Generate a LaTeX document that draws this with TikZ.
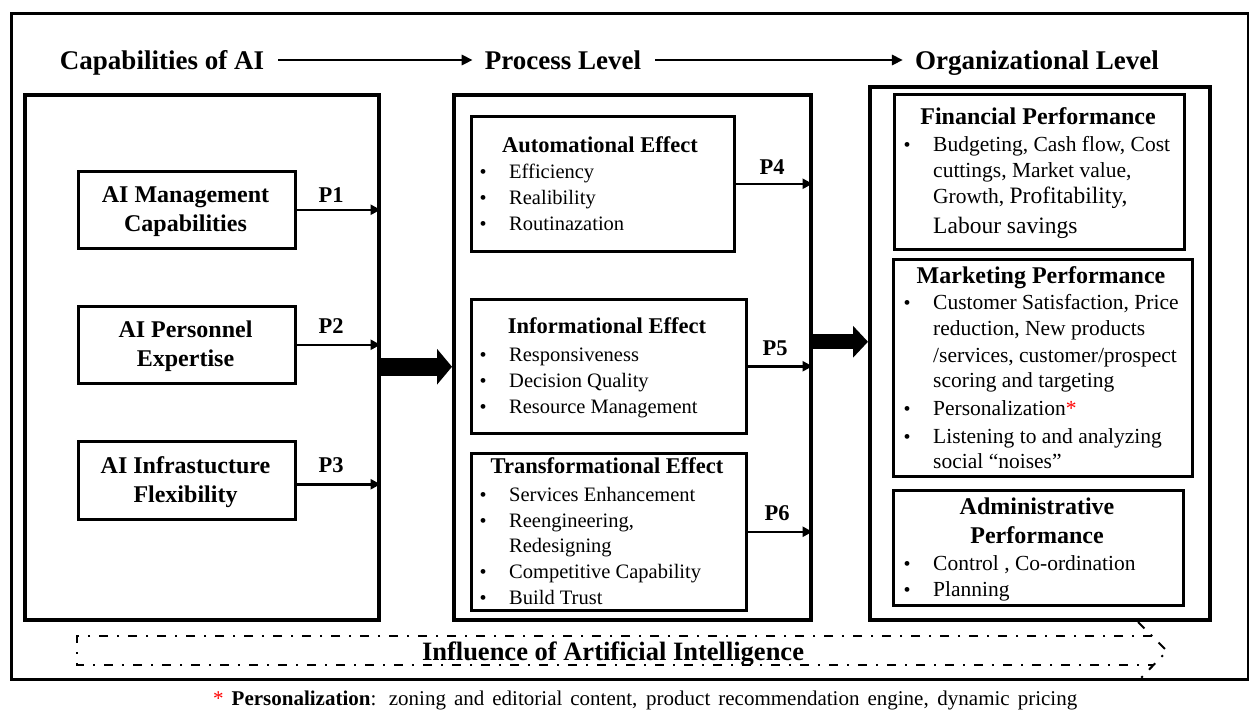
\documentclass[tikz,border=0pt]{standalone}
\usepackage{fontspec}
\setmainfont{Liberation Serif}
\usetikzlibrary{arrows.meta}
\begin{document}
\begin{tikzpicture}[x=1pt,y=-1pt,
  hdr/.style={font=\fontsize{27}{27}\selectfont\bfseries, inner sep=0, anchor=base},
  lbl/.style={font=\fontsize{24}{24}\selectfont\bfseries, inner sep=0, anchor=base},
  plbl/.style={font=\fontsize{22.5}{22.5}\selectfont\bfseries, inner sep=0, anchor=base},
  phead/.style={font=\fontsize{22.5}{22.5}\selectfont\bfseries, inner sep=0, anchor=base},
  pbody/.style={font=\fontsize{20.5}{20.5}\selectfont, inner sep=0, anchor=base west},
  ohead/.style={font=\fontsize{24}{24}\selectfont\bfseries, inner sep=0, anchor=base},
  obody/.style={font=\fontsize{21.5}{21.5}\selectfont, inner sep=0, anchor=base west},
  bul/.style={font=\fontsize{20}{20}\selectfont, inner sep=0, anchor=base},
  box/.style={draw, line width=2.5pt, inner sep=0, anchor=north west},
  bigbox/.style={draw, line width=3.5pt, inner sep=0, anchor=north west},
  conn/.style={line width=2.5pt, -{Triangle[length=10pt,width=10pt]}},
  hconn/.style={line width=2.8pt, -{Triangle[length=11pt,width=10pt]}, shorten <=14pt, shorten >=12pt},
  fat/.style={-{Triangle[length=15pt,width=35pt]}},
  infl/.style={line width=2pt, dash pattern=on 9pt off 9pt on 2pt off 9pt}
]
\useasboundingbox (0,0) rectangle (1249,710);

% outer frame
\node[draw, line width=3pt, inner sep=0, anchor=north west, minimum width=1237pt, minimum height=666pt] (frame) at (10,12) {};

% headers
\node[hdr] (h1) at (162,69) {Capabilities of AI};
\node[hdr] (h2) at (563,69) {Process Level};
\node[hdr] (h3) at (1037,69) {Organizational Level};
\draw[hconn] ([yshift=9pt]h1.base east) -- ([yshift=9pt]h2.base west);
\draw[hconn] ([yshift=9pt]h2.base east) -- ([yshift=9pt]h3.base west);

% big boxes
\node[bigbox, minimum width=354pt, minimum height=525pt] (capbox) at (23,93) {};
\node[bigbox, minimum width=357pt, minimum height=525pt] (procbox) at (452,93) {};
\node[bigbox, minimum width=340pt, minimum height=533pt] (orgbox) at (868,85) {};

% capability boxes
\node[box, minimum width=217pt, minimum height=77pt] (mgmt) at (77,170) {};
\node[box, minimum width=217pt, minimum height=77pt] (pers) at (77,305) {};
\node[box, minimum width=217pt, minimum height=78pt] (infra) at (77,440) {};
\node[lbl] (m1) at (185.5,202) {AI Management};
\node[lbl] (m2) at (185.5,231) {Capabilities};
\node[lbl] (pe1) at (185.5,337) {AI Personnel};
\node[lbl] (pe2) at (185.5,366) {Expertise};
\node[lbl] (in1) at (185.5,473) {AI Infrastucture};
\node[lbl] (in2) at (185.5,502) {Flexibility};
\draw[conn] (mgmt.east) -- (mgmt.east -| capbox.east);
\draw[conn] (pers.east) -- (pers.east -| capbox.east);
\draw[conn] ([yshift=-4pt]infra.east) -- ([yshift=-4pt]infra.east -| capbox.east);
\node[plbl] (p1) at (331,202) {P1};
\node[plbl] (p2) at (331,333) {P2};
\node[plbl] (p3) at (331,472) {P3};

% process boxes
\node[box, minimum width=263pt, minimum height=135pt] (auto) at (470,115) {};
\node[box, minimum width=275pt, minimum height=134pt] (info) at (470,298) {};
\node[box, minimum width=275pt, minimum height=157pt] (trans) at (470,452) {};

\node[phead] (ah) at (600,152) {Automational Effect};
\node[bul] (ab1) at (483,178) {•};
\node[pbody] (at1) at (509,178) {Efficiency};
\node[bul] (ab2) at (483,204) {•};
\node[pbody] (at2) at (509,204) {Realibility};
\node[bul] (ab3) at (483,230) {•};
\node[pbody] (at3) at (509,230) {Routinazation};

\node[phead] (ih) at (607,333) {Informational Effect};
\node[bul] (ib1) at (483,361) {•};
\node[pbody] (it1) at (509,361) {Responsiveness};
\node[bul] (ib2) at (483,387) {•};
\node[pbody] (it2) at (509,387) {Decision Quality};
\node[bul] (ib3) at (483,413) {•};
\node[pbody] (it3) at (509,413) {Resource Management};

\node[phead] (th) at (607,473) {Transformational Effect};
\node[bul] (tb1) at (483,501) {•};
\node[pbody] (tt1) at (509,501) {Services Enhancement};
\node[bul] (tb2) at (483,527) {•};
\node[pbody] (tt2) at (509,527) {Reengineering,};
\node[pbody] (tt3) at (509,552) {Redesigning};
\node[bul] (tb4) at (483,578) {•};
\node[pbody] (tt4) at (509,578) {Competitive Capability};
\node[bul] (tb5) at (483,604) {•};
\node[pbody] (tt5) at (509,604) {Build Trust};

\draw[conn] (auto.east) -- (auto.east -| procbox.east);
\draw[conn] (info.east) -- (info.east -| procbox.east);
\draw[conn] (trans.east) -- (trans.east -| procbox.east);
\node[plbl] (p4) at (772,174) {P4};
\node[plbl] (p5) at (775,355) {P5};
\node[plbl] (p6) at (777,520) {P6};

% fat arrows
\draw[line width=18pt, fat] ([yshift=-9.5pt]capbox.east) -- ([yshift=-9.5pt]capbox.east -| procbox.west);
\draw[line width=15pt, -{Triangle[length=15pt,width=31pt]}] ([yshift=15.5pt]procbox.east) -- ([yshift=15.5pt]procbox.east -| orgbox.west);

% organizational boxes
\node[box, minimum width=290pt, minimum height=155pt] (fin) at (893,93) {};
\node[box, minimum width=299pt, minimum height=217pt] (mark) at (892,258) {};
\node[box, minimum width=290pt, minimum height=115pt] (admin) at (892,489) {};

\node[ohead] (fh) at (1038,124) {Financial Performance};
\node[bul] (fb1) at (907,151) {•};
\node[obody] (ft1) at (933,151) {Budgeting, Cash flow, Cost};
\node[obody] (ft2) at (933,177) {cuttings, Market value,};
\node[obody] (ft3) at (933,203) {Growth, {\fontsize{23.5}{23.5}\selectfont Profitability,}};
\node[obody, font=\fontsize{23.5}{23.5}\selectfont] (ft4) at (933,233) {Labour savings};

\node[ohead] (mh) at (1041,283) {Marketing Performance};
\node[bul] (mb1) at (907,309) {•};
\node[obody] (mt1) at (933,309) {Customer Satisfaction, Price};
\node[obody] (mt2) at (933,335) {reduction, New products};
\node[obody] (mt3) at (933,362) {/services, customer/prospect};
\node[obody] (mt4) at (933,387) {scoring and targeting};
\node[bul] (mb5) at (907,415) {•};
\node[obody] (mt5) at (933,415) {Personalization\textcolor{red}{*}};
\node[bul] (mb6) at (907,443) {•};
\node[obody] (mt6) at (933,443) {Listening to and analyzing};
\node[obody] (mt7) at (933,468) {social “noises”};

\node[ohead] (dh1) at (1037,514) {Administrative};
\node[ohead] (dh2) at (1037,543) {Performance};
\node[bul] (db1) at (907,570) {•};
\node[obody] (dt1) at (933,570) {Control , Co-ordination};
\node[bul] (db2) at (907,596) {•};
\node[obody] (dt2) at (933,596) {Planning};

% influence arrow
\draw[infl] (1152,636) -- (77,636) -- (77,665) -- (1153,665);
\draw[infl] (1138,622) -- (1167,651) -- (1140,679);
\node[font=\fontsize{26.5}{26.5}\selectfont\bfseries, inner sep=0, anchor=base] (infltxt) at (613,660) {Influence of Artificial Intelligence};

% footnote
\node[font=\fontsize{21}{21}\selectfont, inner sep=0, anchor=base west] (fn) at (213,705) {\makebox[864pt][s]{\textcolor{red}{*} \textbf{Personalization}: zoning and editorial content, product recommendation engine, dynamic pricing}};
\end{tikzpicture}
\end{document}
